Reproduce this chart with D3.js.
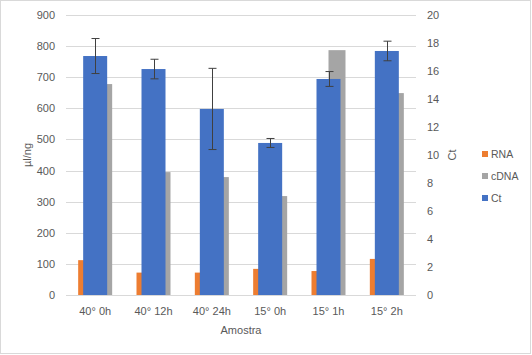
<!DOCTYPE html>
<html>
<head>
<meta charset="utf-8">
<script src="https://cdn.jsdelivr.net/npm/d3@7"></script>
<style>
body { margin: 0; background: #fff; }
text { font-family: "Liberation Sans", Arial, sans-serif; fill: #595959; }
</style>
</head>
<body>
<div id="chart"></div>
<script>
const categories = ['40° 0h', '40° 12h', '40° 24h', '15° 0h', '15° 1h', '15° 2h'];
const rna = [112, 72, 72, 84, 77, 116];
const cdna = [678, 395, 379, 318, 787, 649];
const ct = [17.07, 16.14, 13.29, 10.86, 15.43, 17.43];
const ctErr = [1.25, 0.7, 2.9, 0.32, 0.53, 0.7];
const leftTicks = [0, 100, 200, 300, 400, 500, 600, 700, 800, 900];
const rightTicks = [0, 2, 4, 6, 8, 10, 12, 14, 16, 18, 20];
const legend = [{name: 'RNA', color: '#ED7D31'}, {name: 'cDNA', color: '#A5A5A5'}, {name: 'Ct', color: '#4472C4'}];

const width = 532, height = 355;
const plot = {left: 66, right: 416, top: 15, bottom: 295};

const svg = d3.select('#chart')
    .append('svg')
    .attr('width', width)
    .attr('height', height);

svg.append('rect')
    .attr('x', 0.5).attr('y', 0.5)
    .attr('width', width - 2).attr('height', height - 2)
    .style('fill', '#fff')
    .style('stroke', '#d9d9d9');

let x = d3.scaleBand().domain(categories).range([plot.left, plot.right]);
let yLeft = d3.scaleLinear().domain([0, 900]).range([plot.bottom, plot.top]);
let yRight = d3.scaleLinear().domain([0, 20]).range([plot.bottom, plot.top]);

// gridlines
svg.append('g')
    .selectAll('line')
    .data(leftTicks)
    .enter()
    .append('line')
    .attr('x1', plot.left).attr('x2', plot.right)
    .attr('y1', d => Math.round(yLeft(d)) + 0.5)
    .attr('y2', d => Math.round(yLeft(d)) + 0.5)
    .style('stroke', '#d9d9d9');

// left axis
let leftAxis = d3.axisLeft(yLeft).tickValues(leftTicks).tickSize(0).tickPadding(11);
let leftG = svg.append('g')
    .attr('transform', 'translate(' + plot.left + ',0)')
    .call(leftAxis);
leftG.select('.domain').remove();
leftG.selectAll('text').style('font-size', '11px').style('fill', '#595959');

// right axis
let rightAxis = d3.axisRight(yRight).tickValues(rightTicks).tickSize(0).tickPadding(11);
let rightG = svg.append('g')
    .attr('transform', 'translate(' + plot.right + ',0)')
    .call(rightAxis);
rightG.select('.domain').remove();
rightG.selectAll('text').style('font-size', '11px').style('fill', '#595959');

// x axis
let xAxis = d3.axisBottom(x).tickSize(0).tickPadding(12);
let xG = svg.append('g')
    .attr('transform', 'translate(0,' + plot.bottom + ')')
    .call(xAxis);
xG.select('.domain').remove();
xG.selectAll('text').style('font-size', '11px').style('fill', '#595959');

// primary bars: RNA and cDNA clustered
const barW = 17;
svg.append('g')
    .selectAll('rect')
    .data(rna)
    .enter()
    .append('rect')
    .attr('x', (d, i) => x(categories[i]) + x.bandwidth() / 2 - barW)
    .attr('y', d => yLeft(d))
    .attr('width', barW)
    .attr('height', d => plot.bottom - yLeft(d))
    .style('fill', '#ED7D31');

svg.append('g')
    .selectAll('rect')
    .data(cdna)
    .enter()
    .append('rect')
    .attr('x', (d, i) => x(categories[i]) + x.bandwidth() / 2)
    .attr('y', d => yLeft(d))
    .attr('width', barW)
    .attr('height', d => plot.bottom - yLeft(d))
    .style('fill', '#A5A5A5');

// secondary bars: Ct
const ctW = 24;
svg.append('g')
    .selectAll('rect')
    .data(ct)
    .enter()
    .append('rect')
    .attr('x', (d, i) => x(categories[i]) + x.bandwidth() / 2 - ctW / 2)
    .attr('y', d => yRight(d))
    .attr('width', ctW)
    .attr('height', d => plot.bottom - yRight(d))
    .style('fill', '#4472C4');

// error bars
let errG = svg.append('g').style('stroke', '#404040').style('stroke-width', 1);
ct.forEach((d, i) => {
    let cx = Math.round(x(categories[i]) + x.bandwidth() / 2) + 0.5;
    let top = yRight(d + ctErr[i]), bot = yRight(d - ctErr[i]);
    errG.append('line').attr('x1', cx).attr('x2', cx).attr('y1', top).attr('y2', bot);
    errG.append('line').attr('x1', cx - 4).attr('x2', cx + 4).attr('y1', top).attr('y2', top);
    errG.append('line').attr('x1', cx - 4).attr('x2', cx + 4).attr('y1', bot).attr('y2', bot);
});

// axis titles
svg.append('text')
    .attr('transform', 'translate(31,' + (plot.top + plot.bottom) / 2 + ') rotate(-90)')
    .style('text-anchor', 'middle')
    .style('font-size', '11px')
    .text('µl/ng');

svg.append('text')
    .attr('transform', 'translate(456,' + (plot.top + plot.bottom) / 2 + ') rotate(-90)')
    .style('text-anchor', 'middle')
    .style('font-size', '11px')
    .text('Ct');

svg.append('text')
    .attr('x', (plot.left + plot.right) / 2)
    .attr('y', 334)
    .style('text-anchor', 'middle')
    .style('font-size', '11px')
    .text('Amostra');

// legend
let leg = svg.append('g');
legend.forEach((d, i) => {
    leg.append('rect')
        .attr('x', 482).attr('y', 151 + i * 22)
        .attr('width', 6).attr('height', 6)
        .style('fill', d.color);
    leg.append('text')
        .attr('x', 491).attr('y', 158 + i * 22)
        .style('font-size', '10.5px')
        .text(d.name);
});
</script>
</body>
</html>
